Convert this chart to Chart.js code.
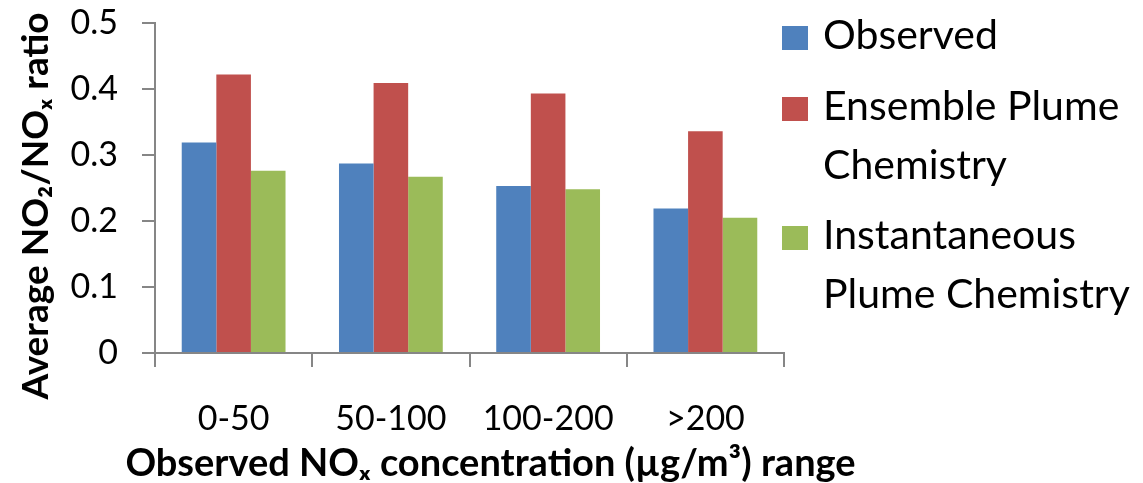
<!DOCTYPE html>
<html>
<head>
<meta charset="utf-8">
<script src="https://cdn.jsdelivr.net/npm/chart.js@4/dist/chart.umd.min.js"></script>
<style>
  html, body { margin: 0; padding: 0; background: #fff; }
  #wrap { position: relative; width: 1143px; height: 483px; }
  #chartBox { position: absolute; left: 0; top: 0; width: 1143px; height: 483px; }
  #legend { position: absolute; left: 782px; top: 4px; font-family: Lato, sans-serif; font-size: 41px; color: #000; }
  .item { display: flex; align-items: flex-start; margin-bottom: 11.5px; }
  .box { width: 26px; height: 24px; margin-top: 22px; margin-right: 15px; flex: none; }
  .txt { line-height: 59px; white-space: pre; }
</style>
</head>
<body>
<div id="wrap">
  <div id="chartBox"><canvas id="chart"></canvas></div>
  <div id="legend"></div>
</div>
<script>
document.addEventListener("DOMContentLoaded", () => {

    // ---- data ----
    const categories = ["0-50", "50-100", "100-200", ">200"];
    const seriesNames = ["Observed", "Ensemble Plume\nChemistry", "Instantaneous\nPlume Chemistry"];
    const observed = [0.319, 0.287, 0.253, 0.219];
    const ensemble = [0.422, 0.409, 0.393, 0.336];
    const instantaneous = [0.276, 0.267, 0.248, 0.205];
    const yTicks = [0, 0.1, 0.2, 0.3, 0.4, 0.5];
    const xTitle = "Observed NOₓ concentration (µg/m³) range";
    const yTitle = "Average NO₂/NOₓ ratio";

    const COLORS = ["#4F81BD", "#C0504D", "#9BBB59"];
    const AXIS = "#868686";
    const FONT = "Lato, sans-serif";

    const values = [observed, ensemble, instantaneous];

    // axis titles are wider than the axes, so draw them here (Chart.js squeezes them)
    const axisTitles = {
        id: "axisTitles",
        afterDraw(chart) {
            const { ctx, chartArea } = chart;
            ctx.save();
            ctx.fillStyle = "#000";
            ctx.textAlign = "center";
            ctx.textBaseline = "alphabetic";
            ctx.font = "bold 38px " + FONT;
            ctx.fillText(xTitle, (chartArea.left + chartArea.right) / 2 + 21, 476);
            ctx.font = "bold 37px " + FONT;
            ctx.translate(48, (chartArea.top + chartArea.bottom) / 2 + 18);
            ctx.rotate(-Math.PI / 2);
            ctx.fillText(yTitle, 0, 0);
            ctx.restore();
        },
    };

    new Chart(document.getElementById("chart"), {
        type: "bar",
        data: {
            labels: categories,
            datasets: values.map((v, i) => ({
                label: seriesNames[i].replace("\n", " "),
                data: v,
                backgroundColor: COLORS[i],
                borderWidth: 0,
                categoryPercentage: 0.66,
                barPercentage: 1.0,
            })),
        },
        options: {
            responsive: true,
            maintainAspectRatio: false,
            animation: false,
            layout: { padding: { left: 0, right: 359, top: 23, bottom: 0 } },
            plugins: {
                legend: { display: false },
                tooltip: { enabled: false },
            },
            scales: {
                x: {
                    grid: { offset: true, drawOnChartArea: false, color: AXIS, lineWidth: 2, tickLength: 14 },
                    border: { color: AXIS, width: 2 },
                    ticks: { color: "#000", font: { family: FONT, size: 34 }, padding: 32, maxRotation: 0 },
                    afterFit: (s) => { s.height = 130; },
                },
                y: {
                    min: 0,
                    max: 0.5,
                    afterBuildTicks: (s) => { s.ticks = yTicks.map((v) => ({ value: v })); },
                    grid: { drawOnChartArea: false, color: AXIS, lineWidth: 2, tickLength: 13 },
                    border: { color: AXIS, width: 2 },
                    ticks: {
                        color: "#000",
                        font: { family: FONT, size: 34 },
                        padding: 24,
                        callback: (v) => String(+v.toFixed(1)),
                    },
                    afterFit: (s) => {
                        s.width = 155;
                        s.paddingTop = 0;
                        s.paddingBottom = 0;
                    },
                },
            },
        },
        plugins: [axisTitles],
    });

    // HTML legend on the right
    const legend = document.getElementById("legend");
    seriesNames.forEach((name, i) => {
        const item = document.createElement("div");
        item.className = "item";
        const box = document.createElement("div");
        box.className = "box";
        box.style.background = COLORS[i];
        const txt = document.createElement("div");
        txt.className = "txt";
        txt.textContent = name;
        item.appendChild(box);
        item.appendChild(txt);
        legend.appendChild(item);
    });
});
</script>
</body>
</html>
